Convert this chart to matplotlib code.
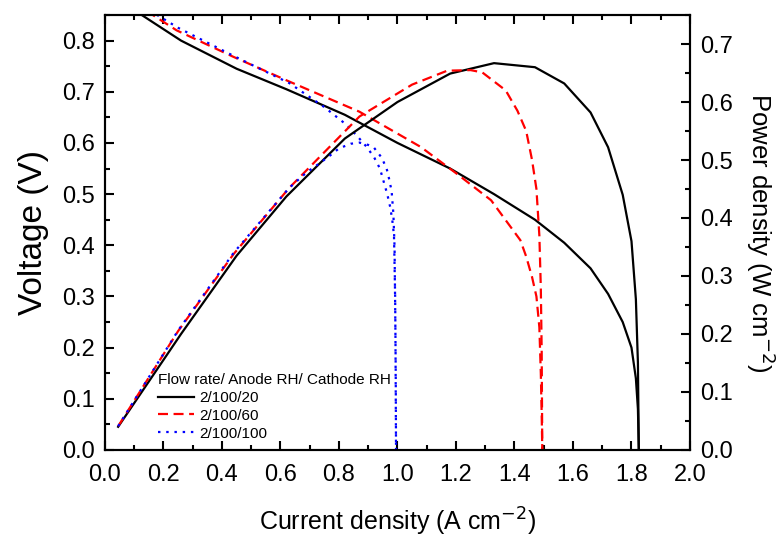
import numpy as np
import matplotlib
matplotlib.use("Agg")
import matplotlib.pyplot as plt
from matplotlib.ticker import MultipleLocator

plt.rcParams['font.family'] = ['Liberation Sans', 'DejaVu Sans']

labels = ['2/100/20', '2/100/60', '2/100/100']
colors = ['black', 'red', 'blue']

# polarization curves (current density A/cm2, voltage V)
i_v20 = [0.045, 0.26, 0.45, 0.62, 0.82, 1.0, 1.18, 1.33, 1.47, 1.57, 1.66, 1.72,
         1.77, 1.80, 1.815, 1.822, 1.825]
v_20 = [0.88, 0.80, 0.745, 0.705, 0.655, 0.60, 0.55, 0.50, 0.45, 0.405, 0.355, 0.305,
        0.25, 0.20, 0.14, 0.08, 0.0]
i_v60 = [0.045, 0.15, 0.245, 0.44, 0.63, 0.87, 1.08, 1.20, 1.32, 1.37, 1.42, 1.44,
         1.46, 1.475, 1.485, 1.49, 1.493, 1.495]
v_60 = [0.92, 0.855, 0.82, 0.768, 0.72, 0.661, 0.592, 0.541, 0.488, 0.449, 0.41, 0.378,
        0.338, 0.30, 0.24, 0.15, 0.07, 0.0]
i_v100 = [0.045, 0.15, 0.25, 0.44, 0.63, 0.75, 0.82, 0.86, 0.895, 0.92, 0.94, 0.955,
          0.965, 0.975, 0.982, 0.988, 0.992, 0.994, 0.995]
v_100 = [0.92, 0.86, 0.825, 0.77, 0.717, 0.67, 0.638, 0.615, 0.592, 0.572, 0.55, 0.52,
         0.50, 0.475, 0.45, 0.42, 0.30, 0.15, 0.0]

# power density curves (W/cm2)
i_p20 = [0.045, 0.26, 0.45, 0.62, 0.82, 1.0, 1.18, 1.33, 1.47, 1.57, 1.66, 1.72,
         1.77, 1.80, 1.815, 1.822, 1.825]
p_20 = [0.040, 0.20, 0.335, 0.437, 0.537, 0.600, 0.649, 0.667, 0.660, 0.632, 0.582, 0.522,
        0.44, 0.36, 0.26, 0.15, 0.0]
i_p60 = [0.045, 0.25, 0.44, 0.63, 0.87, 1.05, 1.17, 1.25, 1.29, 1.37, 1.41, 1.44,
         1.46, 1.475, 1.485, 1.49, 1.493, 1.495]
p_60 = [0.041, 0.205, 0.338, 0.452, 0.575, 0.63, 0.654, 0.655, 0.651, 0.62, 0.585, 0.55,
        0.50, 0.45, 0.37, 0.28, 0.17, 0.0]
i_p100 = [0.045, 0.25, 0.44, 0.63, 0.69, 0.73, 0.77, 0.80, 0.84, 0.87, 0.90, 0.92,
          0.946, 0.963, 0.972, 0.98, 0.986, 0.99, 0.993, 0.995]
p_100 = [0.041, 0.206, 0.34, 0.452, 0.479, 0.493, 0.508, 0.52, 0.528, 0.53, 0.526, 0.521,
         0.504, 0.485, 0.466, 0.446, 0.407, 0.35, 0.2, 0.0]

volt = [(i_v20, v_20), (i_v60, v_60), (i_v100, v_100)]
power = [(i_p20, p_20), (i_p60, p_60), (i_p100, p_100)]
styles = [dict(linestyle='-'),
          dict(dashes=(4.5, 2.5)),
          dict(dashes=(1.1, 2.6))]

fig = plt.figure(figsize=(7.8, 5.38), dpi=100)
ax = fig.add_axes([0.1346, 0.1636, 0.75, 0.8085])
ax2 = ax.twinx()

handles = []
for (x, y), st, c, lab in zip(volt, styles, colors, labels):
    h, = ax.plot(x, y, color=c, lw=1.6, label=lab, **st)
    handles.append(h)
for (x, y), st, c in zip(power, styles, colors):
    ax2.plot(x, y, color=c, lw=1.6, **st)

ax.set_xlim(0, 2.0)
ax.set_ylim(0, 0.85)
ax2.set_ylim(0, 0.75)
ax.xaxis.set_major_locator(MultipleLocator(0.2))
ax.xaxis.set_minor_locator(MultipleLocator(0.1))
ax.yaxis.set_major_locator(MultipleLocator(0.1))
ax.yaxis.set_minor_locator(MultipleLocator(0.05))
ax2.yaxis.set_major_locator(MultipleLocator(0.1))
ax2.yaxis.set_minor_locator(MultipleLocator(0.05))
ax.xaxis.set_major_formatter(lambda v, p: f'{v:.1f}')
ax.yaxis.set_major_formatter(lambda v, p: f'{v:.1f}')
ax2.yaxis.set_major_formatter(lambda v, p: f'{v:.1f}')

ax.tick_params(which='both', direction='in', top=True, right=False, labelsize=17, width=1.5)
ax.tick_params(which='major', length=6.5)
ax.tick_params(which='minor', length=3.5)
ax.tick_params(axis='x', which='major', pad=10)
ax.tick_params(axis='y', which='major', pad=7)
ax2.tick_params(which='both', direction='in', labelsize=17, width=1.5)
ax2.tick_params(which='major', length=6.5, pad=7)
ax2.tick_params(which='minor', length=3.5)
for a in (ax, ax2):
    for s in a.spines.values():
        s.set_linewidth(1.5)

ax.set_xlabel('Current density (A cm$^{-2}$)', fontsize=18, labelpad=14)
ax.set_ylabel('Voltage (V)', fontsize=24, labelpad=10)
ax2.set_ylabel('Power density (W cm$^{-2}$)', fontsize=18.5, rotation=270,
               va='bottom', labelpad=8)

leg = ax2.legend(handles=handles, title='Flow rate/ Anode RH/ Cathode RH',
                 loc='lower left', bbox_to_anchor=(0.072, -0.003), frameon=False,
                 fontsize=11, title_fontsize=11, handlelength=2.4,
                 labelspacing=0.25, borderpad=0.2, handletextpad=0.3)
leg._legend_box.align = 'left'

fig.savefig('out.png', dpi=100)
